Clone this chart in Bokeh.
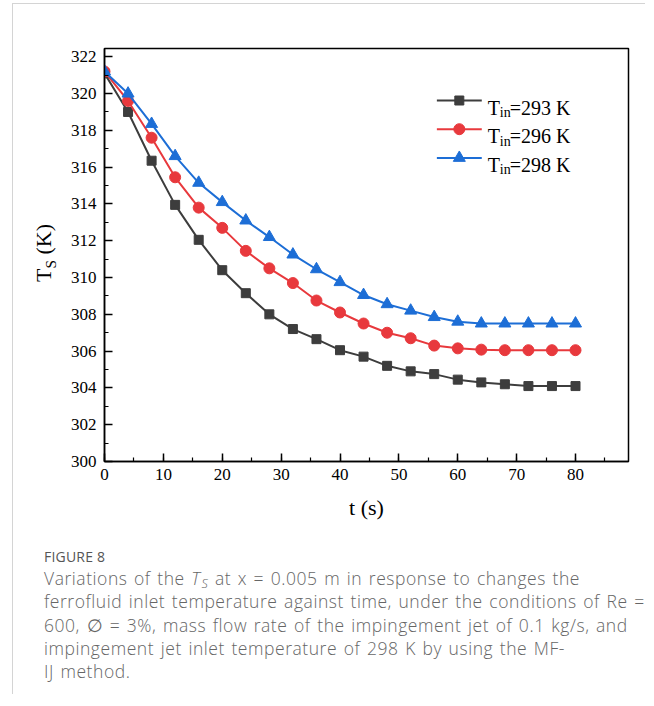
from bokeh.plotting import figure
from bokeh.models import Range1d, SingleIntervalTicker, Div
from bokeh.layouts import column, row
from bokeh.embed import file_html
from bokeh.resources import INLINE
from bokeh.core.properties import value

# ---------------- data ----------------
t = [0, 4, 8, 12, 16, 20, 24, 28, 32, 36, 40, 44, 48, 52, 56, 60, 64, 68, 72, 76, 80]
ts_293 = [321.1, 319.0, 316.35, 313.95, 312.05, 310.4, 309.15, 308.0, 307.2, 306.65, 306.05,
          305.7, 305.2, 304.9, 304.75, 304.45, 304.3, 304.2, 304.1, 304.1, 304.1]
ts_296 = [321.2, 319.6, 317.6, 315.45, 313.8, 312.7, 311.45, 310.5, 309.7, 308.75, 308.1,
          307.5, 307.0, 306.7, 306.3, 306.15, 306.08, 306.05, 306.05, 306.05, 306.05]
ts_298 = [321.2, 320.0, 318.35, 316.6, 315.15, 314.1, 313.1, 312.2, 311.25, 310.45, 309.75,
          309.05, 308.55, 308.2, 307.85, 307.6, 307.5, 307.5, 307.5, 307.5, 307.5]
series_values = [ts_293, ts_296, ts_298]
series_temps = ["293", "296", "298"]
series_colors = ["#3d3d3d", "#e8393d", "#1d6ed6"]
series_markers = ["square", "circle", "triangle"]
marker_sizes = [9, 11, 12]

x_label = "t (s)"
y_label_parts = ["T", "S", " (K)"]

caption_title = "FIGURE 8"
caption_line1 = ["Variations of the ", "T", "S", " at x = 0.005 m in response to changes the"]
caption_rest = [
    "ferrofluid inlet temperature against time, under the conditions of Re =",
    "600, \u2205 = 3%, mass flow rate of the impingement jet of 0.1 kg/s, and",
    "impingement jet inlet temperature of 298 K by using the MF-",
    "IJ method.",
]

SERIF = "Liberation Serif"

# ---------------- chart ----------------
x0, x1 = 0, 89
y0, y1 = 300, 322.45
FIG_H, B_TOP, B_BOT = 534, 44, 77
YW = 54
PW = 578
p = figure(width=PW, height=FIG_H, x_range=Range1d(x0, x1), y_range=Range1d(y0, y1),
           output_backend="svg", toolbar_location=None,
           min_border_left=36, min_border_right=PW - 36 - 525,
           min_border_top=B_TOP, min_border_bottom=B_BOT)
p.background_fill_color = "white"
p.border_fill_color = "white"
p.xgrid.visible = False
p.ygrid.visible = False
p.outline_line_color = "black"
p.outline_line_width = 1.5
p.outline_line_alpha = 1.0

p.xaxis.ticker = SingleIntervalTicker(interval=10, num_minor_ticks=2)
p.yaxis.ticker = SingleIntervalTicker(interval=2, num_minor_ticks=2)
for ax in (p.xaxis, p.yaxis):
    ax.axis_line_color = "black"
    ax.axis_line_width = 1.5
    ax.major_tick_line_color = "black"
    ax.minor_tick_line_color = "black"
    ax.major_tick_line_width = 1.5
    ax.minor_tick_line_width = 1.2
    ax.major_tick_in = 8
    ax.major_tick_out = 0
    ax.minor_tick_in = 4
    ax.minor_tick_out = 0
    ax.major_label_text_font = SERIF
    ax.major_label_text_font_size = "17px"
    ax.major_label_text_color = "black"
p.xaxis.major_label_standoff = 7
p.yaxis.major_label_standoff = 8
p.xaxis.axis_label = x_label
p.xaxis.axis_label_text_font = SERIF
p.xaxis.axis_label_text_font_size = "22px"
p.xaxis.axis_label_text_font_style = "normal"
p.xaxis.axis_label_text_color = "black"
p.xaxis.axis_label_standoff = 12

for vals, col, mk, ms in zip(series_values, series_colors, series_markers, marker_sizes):
    p.line(t, vals, line_color=col, line_width=2)
    p.scatter(t, vals, marker=mk, size=ms, fill_color=col, line_color=col)

px_per_x = 525 / (x1 - x0)
px_per_y = 413 / (y1 - y0)

# legend (custom, to allow subscripts)
leg_xa = x0 + 333 / px_per_x
leg_xb = x0 + 378 / px_per_x
leg_xt = x0 + 384 / px_per_x
leg_rows = [y0 + (361 - i * 28.7) / px_per_y for i in range(3)]
for i, (temp, col, mk, ms) in enumerate(zip(series_temps, series_colors, series_markers, marker_sizes)):
    yy = leg_rows[i]
    p.line([leg_xa, leg_xb], [yy, yy], line_color=col, line_width=2)
    p.scatter([(leg_xa + leg_xb) / 2], [yy], marker=mk, size=ms, fill_color=col, line_color=col)
    p.text([leg_xt], [yy], text=["T"], text_font=value(SERIF), text_font_size=value("20px"),
           text_baseline="alphabetic", text_align="left", y_offset=7, text_color="black")
    p.text([leg_xt], [yy], text=["in"], text_font=value(SERIF), text_font_size=value("14px"),
           text_baseline="alphabetic", text_align="left", x_offset=12, y_offset=12, text_color="black")
    p.text([leg_xt], [yy], text=["=" + temp + " K"], text_font=value(SERIF),
           text_font_size=value("20px"), text_baseline="alphabetic", text_align="left",
           x_offset=22, y_offset=7, text_color="black")

# ---------------- y-axis title (HTML, rotated, with subscript) ----------------
ylab_html = (
    '<div style="position:relative;width:%dpx;height:%dpx;">'
    '<div style="position:absolute;left:19.6px;top:278px;transform:rotate(-90deg);'
    'transform-origin:0 0;white-space:nowrap;font-family:\'Liberation Serif\';font-size:22px;'
    'line-height:22px;color:#000;">%s<span style="font-size:0.7em;vertical-align:-0.3em;'
    'line-height:0;">%s</span>%s</div></div>'
    % (YW, FIG_H, y_label_parts[0], y_label_parts[1], y_label_parts[2])
)
ylab = Div(text=ylab_html, width=YW, height=FIG_H, margin=0)

# ---------------- caption (HTML) ----------------
sub = ('<span style="font-style:italic;font-size:0.72em;vertical-align:-0.22em;line-height:0;'
       'margin-left:1px;">{}</span>')
line1 = (caption_line1[0] + '<i>' + caption_line1[1] + '</i>'
         + sub.format(caption_line1[2]) + caption_line1[3])
body = "<br>".join([line1] + caption_rest)
cap_html = (
    '<div style="padding:9px 0 0 31px;font-family:\'Open Sans\';color:#666;font-weight:300;'
    'white-space:nowrap;">'
    '<div style="font-size:14px;line-height:20px;color:#555;font-weight:400;letter-spacing:0.2px;">'
    + caption_title + '</div>'
    '<div style="font-size:17.5px;line-height:23.3px;letter-spacing:0.55px;word-spacing:1.5px;">'
    + body + '</div></div>'
)
cap = Div(text=cap_html, width=YW + PW, height=156, margin=0)

layout = column(row(ylab, p), cap,
                styles={"border-top": "1px solid #d4d4d4", "border-left": "1px solid #d4d4d4",
                        "margin-left": "12px", "margin-top": "3px"})

open("out.html", "w").write(file_html(layout, INLINE))
